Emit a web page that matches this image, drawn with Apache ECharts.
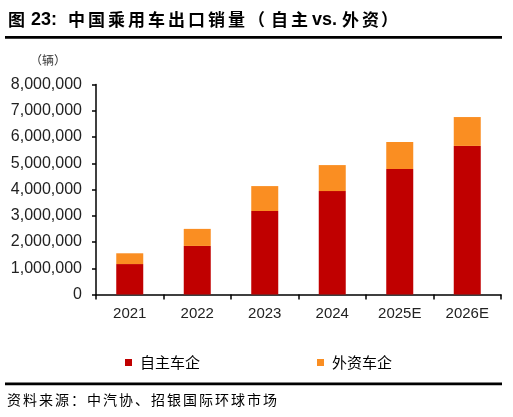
<!DOCTYPE html>
<html>
<head>
<meta charset="utf-8">
<script src="https://cdn.jsdelivr.net/npm/echarts@6/dist/echarts.min.js"></script>
<style>
html,body{margin:0;padding:0;background:#fff;}
#main{width:513px;height:417px;}
</style>
</head>
<body>
<div id="main"></div>
<script>
// 年份
var years = ['2021', '2022', '2023', '2024', '2025E', '2026E'];
// 自主车企出口（辆）
var domesticBrand = [1160000, 1850000, 3180000, 3940000, 4780000, 5660000];
// 外资车企出口（辆）
var foreignBrand = [410000, 650000, 950000, 990000, 1030000, 1100000];
var seriesNames = ['自主车企', '外资车企'];
var seriesColors = ['#C00000', '#FA8E22'];

var cjk = '"Noto Sans CJK SC", sans-serif';
var latin = '"Liberation Sans", Arial, sans-serif';

// 逐字排开的文字（原图字距较宽）
function spacedText(str, x0, step, y, font) {
    var arr = [];
    for (var i = 0; i < str.length; i++) {
        arr.push({type: 'text', x: x0 + i * step, y: y,
            style: {text: str.charAt(i), font: font, fill: '#000', textVerticalAlign: 'middle'}});
    }
    return arr;
}

var titleFont = 'bold 17px ' + cjk;
var graphics = [
    {type: 'text', x: 8, y: 20, style: {text: '图', font: titleFont, fill: '#000', textVerticalAlign: 'middle'}},
    {type: 'text', x: 31, y: 20, style: {text: '23:', font: 'bold 18px ' + latin, fill: '#000', textVerticalAlign: 'middle'}},
    {type: 'text', x: 248, y: 20, style: {text: '（', font: titleFont, fill: '#000', textVerticalAlign: 'middle'}},
    {type: 'text', x: 312, y: 20, style: {text: 'vs.', font: 'bold 18px ' + latin, fill: '#000', textVerticalAlign: 'middle'}},
    {type: 'text', x: 381, y: 20, style: {text: '）', font: titleFont, fill: '#000', textVerticalAlign: 'middle'}},
    {type: 'rect', shape: {x: 5, y: 36, width: 497, height: 2.8}, style: {fill: '#000'}},
    {type: 'text', x: 30, y: 60, style: {text: '（辆）', font: '12px ' + cjk, fill: '#333', textVerticalAlign: 'middle'}},
    {type: 'rect', shape: {x: 5, y: 382.5, width: 497, height: 2.8}, style: {fill: '#000'}}
];
graphics = graphics
    .concat(spacedText('中国乘用车出口销量', 68, 20, 20, titleFont))
    .concat(spacedText('自主', 271, 20, 20, titleFont))
    .concat(spacedText('外资', 342, 20, 20, titleFont))
    .concat(spacedText('资料来源：中汽协、招银国际环球市场', 7, 16, 400, '14px ' + cjk));

var myChart = echarts.init(document.getElementById('main'));
var option = {
    animation: false,
    grid: {
        left: 96,
        right: 12,
        top: 84.5,
        bottom: 122.5
    },
    legend: {
        left: 120,
        top: 350,
        itemWidth: 7,
        itemHeight: 7,
        itemGap: 117,
        icon: 'rect',
        textStyle: {fontFamily: cjk, fontSize: 15, color: '#000', padding: [0, 0, 0, 3]},
        data: seriesNames
    },
    xAxis: {
        type: 'category',
        data: years,
        axisLine: {lineStyle: {color: '#000', width: 1.5}},
        axisTick: {show: true, length: 5, lineStyle: {color: '#000', width: 1.5}},
        axisLabel: {fontFamily: latin, fontSize: 15, color: '#222', margin: 12}
    },
    yAxis: {
        type: 'value',
        min: 0,
        max: 8000000,
        interval: 1000000,
        splitLine: {show: false},
        axisLine: {show: true, lineStyle: {color: '#000', width: 1.5}},
        axisTick: {show: true, length: 4, lineStyle: {color: '#000', width: 1.5}},
        axisLabel: {
            fontFamily: latin, fontSize: 16, color: '#222', margin: 14,
            formatter: function (v) { return v.toLocaleString('en-US'); }
        }
    },
    series: [{
        name: seriesNames[0],
        type: 'bar',
        stack: 'total',
        barWidth: 27,
        itemStyle: {color: seriesColors[0]},
        data: domesticBrand
    }, {
        name: seriesNames[1],
        type: 'bar',
        stack: 'total',
        barWidth: 27,
        itemStyle: {color: seriesColors[1]},
        data: foreignBrand
    }],
    graphic: graphics
};
myChart.setOption(option);
</script>
</body>
</html>
